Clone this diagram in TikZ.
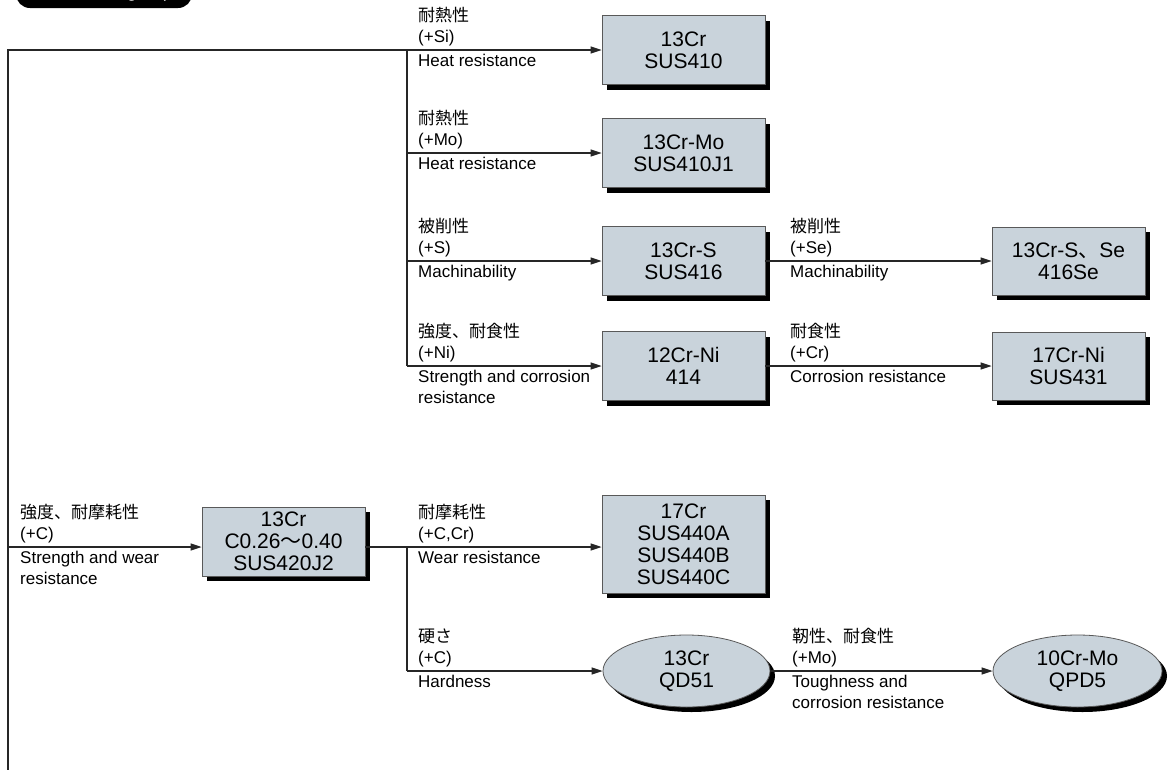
\documentclass[tikz,border=0pt]{standalone}
\usepackage{fontspec}
\setmainfont{Liberation Sans}
\newfontfamily\jp{Noto Sans CJK JP}
\usetikzlibrary{arrows.meta,shapes.geometric,shadows}
\definecolor{boxfill}{RGB}{201,211,219}
\newcommand{\lblfont}{\fontsize{17}{20.5}\selectfont}
\newcommand{\boxfont}{\fontsize{21}{22}\selectfont}

\begin{document}
\begin{tikzpicture}[x=1pt,y=-1pt,
  ln/.style={draw=black!85,line width=1.2pt},
  arr/.style={ln,-{Triangle[length=11pt,width=7pt]}},
  sh/.style={drop shadow={shadow xshift=5pt,shadow yshift=-5pt,opacity=1,fill=black}},
  bx/.style={sh,draw=black!65,line width=0.8pt,fill=boxfill,align=center,inner sep=0pt,
    minimum width=163pt,minimum height=69pt,font=\boxfont},
  el/.style={bx,ellipse,minimum width=167pt,minimum height=72pt},
  up/.style={anchor=south west,align=left,inner sep=0pt,font=\lblfont},
  dn/.style={anchor=north west,align=left,inner sep=0pt,font=\lblfont}]
  \useasboundingbox (0,0) rectangle (1168,769);
  \node[fill=black,text=white,rounded corners=14pt,minimum width=176pt,minimum height=30pt,
    font=\fontsize{18}{18}\selectfont] (grp) at (104,-7) {Martensitic group};

  % steels
  \node[bx] (b410) at (683.5,50) {13Cr\\SUS410};
  \node[bx] (b410j) at (683.5,153) {13Cr-Mo\\SUS410J1};
  \node[bx] (b416) at (683.5,261) {13Cr-S\\SUS416};
  \node[bx] (b414) at (683.5,366) {12Cr-Ni\\414};
  \node[bx,minimum width=153pt,minimum height=68pt] (b416se) at (1068.5,261) {13Cr-S{\jp 、}Se\\416Se};
  \node[bx,minimum width=153pt,minimum height=68pt] (b431) at (1068.5,366) {17Cr-Ni\\SUS431};
  \node[bx] (b420) at (283.5,541.5) {13Cr\\C0.26{\jp 〜}0.40\\SUS420J2};
  \node[bx,minimum height=98pt] (b440) at (683.5,544) {17Cr\\SUS440A\\SUS440B\\SUS440C};
  \node[el] (qd51) at (686.5,671) {13Cr\\QD51};
  \node[el,minimum width=169pt] (qpd5) at (1077.5,671) {10Cr-Mo\\QPD5};

  % connectors
  \coordinate (m0) at (8,780);
  \coordinate (m1) at (8,547);
  \coordinate (t0) at (407,50);
  \coordinate (t4) at (407,547);
  \draw[arr] (m0) |- (b410);
  \draw[ln] (t0) -- (t0 |- b414);
  \foreach \b in {b410j,b416,b414} \draw[arr] (t0 |- \b) -- (\b);
  \draw[arr] (b416) -- (b416se);
  \draw[arr] (b414) -- (b431);
  \draw[arr] (m1) -- (m1 -| b420.west);
  \draw[arr] (t4 -| b420.east) -- (t4 -| b440.west);
  \draw[ln] (t4) -- (t4 |- qd51);
  \draw[arr] (t4 |- qd51) -- (qd51);
  \draw[arr] (qd51) -- (qpd5);

  % labels
  \node[up] (l1u) at (418,46) {{\jp 耐熱性}\\(+Si)};
  \node[dn] (l1d) at (418,54) {Heat resistance};
  \node[up] (l2u) at (418,149) {{\jp 耐熱性}\\(+Mo)};
  \node[dn] (l2d) at (418,157) {Heat resistance};
  \node[up] (l3u) at (418,257) {{\jp 被削性}\\(+S)};
  \node[dn] (l3d) at (418,265) {Machinability};
  \node[up] (l4u) at (418,362) {{\jp 強度、耐食性}\\(+Ni)};
  \node[dn] (l4d) at (418,370) {Strength and corrosion\\resistance};
  \node[up] (l5u) at (790,257) {{\jp 被削性}\\(+Se)};
  \node[dn] (l5d) at (790,265) {Machinability};
  \node[up] (l6u) at (790,362) {{\jp 耐食性}\\(+Cr)};
  \node[dn] (l6d) at (790,370) {Corrosion resistance};
  \node[up] (l7u) at (20,543) {{\jp 強度、耐摩耗性}\\(+C)};
  \node[dn] (l7d) at (20,551) {Strength and wear\\resistance};
  \node[up] (l8u) at (418,543) {{\jp 耐摩耗性}\\(+C,Cr)};
  \node[dn] (l8d) at (418,551) {Wear resistance};
  \node[up] (l9u) at (418,667) {{\jp 硬さ}\\(+C)};
  \node[dn] (l9d) at (418,675) {Hardness};
  \node[up] (l10u) at (792,667) {{\jp 靭性、耐食性}\\(+Mo)};
  \node[dn] (l10d) at (792,675) {Toughness and\\corrosion resistance};
\end{tikzpicture}
\end{document}
